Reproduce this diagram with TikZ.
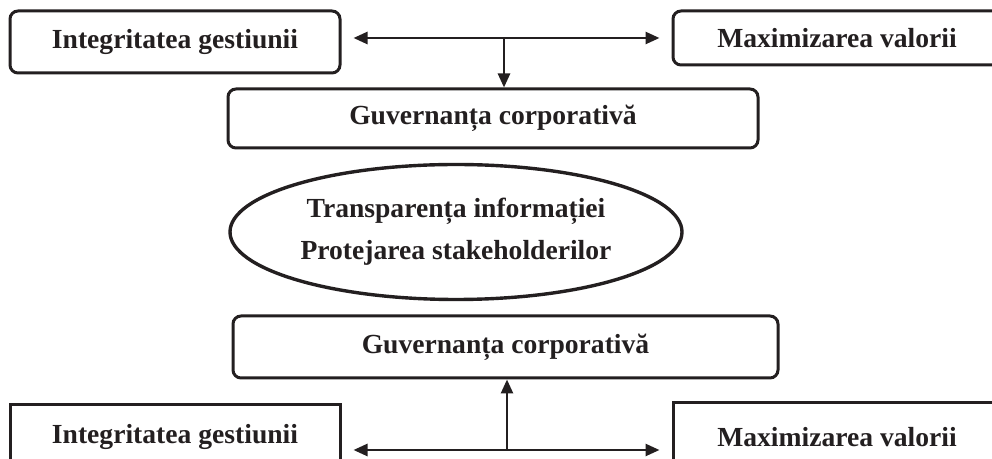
\documentclass[tikz,border=0pt]{standalone}
\usepackage{fontspec}
\setmainfont{Liberation Serif}
\usepackage{xcolor}
\definecolor{ink-900}{RGB}{35,31,32}
\usepackage{tikz}
\usetikzlibrary{arrows.meta,shapes.geometric,positioning}

\begin{document}
\begin{tikzpicture}[
    x=0.5pt, y=-0.5pt,
    every node/.style={inner sep=0pt, text=ink-900},
    label font/.style={font=\bfseries\fontsize{13.8}{17}\selectfont},
    roundbox/.style={draw=ink-900, line width=1.5pt, rounded corners=4pt, label font},
    squarebox/.style={draw=ink-900, line width=1.5pt, label font},
    link/.style={draw=ink-900, line width=1.3pt, -{Triangle[length=7pt,width=6pt]}},
    twoway/.style={link, {Triangle[length=7pt,width=6pt]}-{Triangle[length=7pt,width=6pt]}}
]

\useasboundingbox (0,0) rectangle (992,459);
\clip (0,0) rectangle (992,459);

% Upper row
\node[roundbox, minimum width=165pt, minimum height=31pt] (integ-top) at (175,42) {Integritatea gestiunii};
\node[roundbox, minimum width=164pt, minimum height=27pt] (valoare-top) at (837,38) {Maximizarea valorii};
\node[roundbox, minimum width=265pt, minimum height=29.5pt] (guv-top) at (493,118.5) {Guvernanța corporativă};

% Upper connectors
\draw[twoway, shorten <=6pt, shorten >=6pt] (integ-top.east |- valoare-top.west) -- (valoare-top.west);
\coordinate (split-top) at (504,38);
\draw[link] (split-top) -- (split-top |- guv-top.north);

% Central ellipse
\node[
    draw=ink-900,
    line width=1.7pt,
    ellipse,
    minimum width=226pt,
    minimum height=67.5pt,
    align=center,
    font=\bfseries\fontsize{13.8}{21}\selectfont
] (centru) at (456,232) {Transparența informației\\Protejarea stakeholderilor};

% Lower row
\node[roundbox, minimum width=272.5pt, minimum height=31pt] (guv-bot) at (505.5,347) {Guvernanța corporativă};
\node[squarebox, minimum width=165pt, minimum height=32pt] (integ-bot) at (175,437) {Integritatea gestiunii};
\node[squarebox, minimum width=164pt, minimum height=34pt] (valoare-bot) at (837,437) {Maximizarea valorii};

% Lower connectors
\coordinate (split-bot) at (507,450);
\draw[twoway, shorten <=6pt, shorten >=6pt] (integ-bot.east |- split-bot) -- (valoare-bot.west |- split-bot);
\draw[link] (split-bot) -- (split-bot |- guv-bot.south);

\end{tikzpicture}
\end{document}
